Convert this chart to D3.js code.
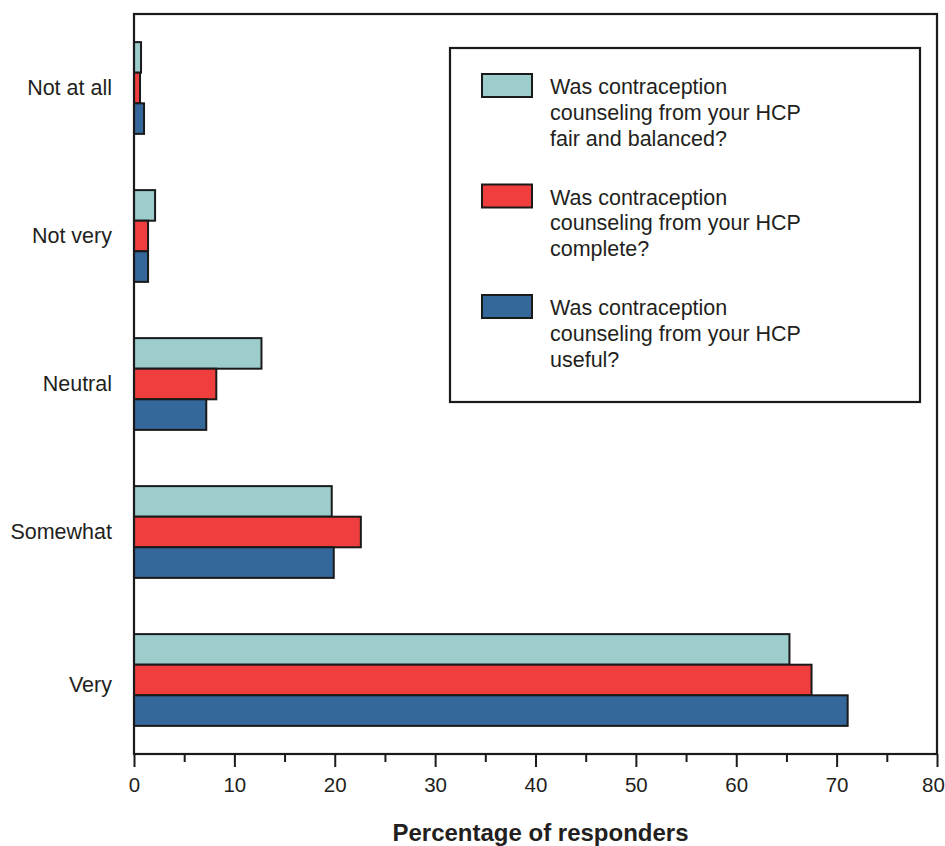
<!DOCTYPE html>
<html>
<head>
<meta charset="utf-8">
<script src="https://cdn.jsdelivr.net/npm/d3@7/dist/d3.min.js"></script>
<style>
  body { margin: 0; background: #fff; }
  svg { display: block; }
  text { font-family: "Liberation Sans", Arial, Helvetica, sans-serif; fill: #231f20; }
</style>
</head>
<body>
<svg id="chart" width="945" height="846"></svg>
<script>
const categories = ["Not at all", "Not very", "Neutral", "Somewhat", "Very"];
const seriesNames = [
  ["Was contraception", "counseling from your HCP", "fair and balanced?"],
  ["Was contraception", "counseling from your HCP", "complete?"],
  ["Was contraception", "counseling from your HCP", "useful?"]
];
const fairBalanced = [0.7, 2.1, 12.7, 19.7, 65.3];
const complete = [0.6, 1.4, 8.2, 22.6, 67.5];
const useful = [1.0, 1.4, 7.2, 19.9, 71.1];
const seriesValues = [fairBalanced, complete, useful];
const seriesColors = ["#9ccdcc", "#ef3e3d", "#34679a"];
const xTicks = [0, 10, 20, 30, 40, 50, 60, 70, 80];
const xMinorTicks = [5, 15, 25, 35, 45, 55, 65, 75];

(function () {
const svg = d3.select("#chart");
const pLeft = 134, pRight = 937, pTop = 14, pBottom = 754;
const ink = "#1a1a1a";

const x = d3.scaleLinear().domain([0, 80]).range([pLeft, pRight]);
const y = d3.scaleBand().domain(categories).range([pTop, pBottom]).paddingInner(0.38).paddingOuter(0.19);
const ySub = d3.scaleBand().domain(d3.range(seriesValues.length)).range([0, y.bandwidth()]);

// bars
const groups = svg.append("g").selectAll("g")
  .data(categories)
  .join("g")
  .attr("transform", d => `translate(0,${y(d)})`);

groups.selectAll("rect")
  .data((c, ci) => seriesValues.map((vals, si) => ({ si, v: vals[ci] })))
  .join("rect")
  .attr("x", x(0))
  .attr("y", d => ySub(d.si))
  .attr("width", d => x(d.v) - x(0))
  .attr("height", ySub.bandwidth())
  .attr("fill", d => seriesColors[d.si])
  .attr("stroke", ink)
  .attr("stroke-width", 2);

// frame
svg.append("rect")
  .attr("x", pLeft).attr("y", pTop)
  .attr("width", pRight - pLeft).attr("height", pBottom - pTop)
  .attr("fill", "none").attr("stroke", ink).attr("stroke-width", 2.2);

// x axis
const xAxis = d3.axisBottom(x).tickValues(xTicks).tickSize(13).tickPadding(10).tickFormat(d3.format("d"));
const gx = svg.append("g").attr("transform", `translate(0,${pBottom})`).call(xAxis);
gx.select(".domain").remove();
gx.selectAll(".tick line").attr("stroke", ink).attr("stroke-width", 2);
gx.selectAll(".tick text").attr("font-size", 20.5).attr("fill", "#231f20")
  .style("font-family", '"Liberation Sans", Arial, sans-serif')
  .attr("dx", d => d === 80 ? -4 : 0);

const gxm = svg.append("g").attr("transform", `translate(0,${pBottom})`)
  .call(d3.axisBottom(x).tickValues(xMinorTicks).tickSize(8).tickFormat(""));
gxm.select(".domain").remove();
gxm.selectAll(".tick line").attr("stroke", ink).attr("stroke-width", 2);

// y axis labels
const gy = svg.append("g").attr("transform", `translate(${pLeft},0)`)
  .call(d3.axisLeft(y).tickSize(0).tickPadding(22));
gy.select(".domain").remove();
gy.selectAll(".tick text").attr("font-size", 21.5).attr("fill", "#231f20")
  .style("font-family", '"Liberation Sans", Arial, sans-serif')
  .attr("y", d => d === "Very" ? 5 : 0);

// x axis title
svg.append("text")
  .attr("x", (pLeft + pRight) / 2 + 5)
  .attr("y", 841)
  .attr("text-anchor", "middle")
  .attr("font-size", 24)
  .attr("font-weight", "bold")
  .text("Percentage of responders");

// legend
const legend = svg.append("g");
legend.append("rect")
  .attr("x", 450).attr("y", 48).attr("width", 470).attr("height", 354)
  .attr("fill", "#fff").attr("stroke", ink).attr("stroke-width", 2.2);

const items = legend.selectAll("g.item")
  .data(seriesNames)
  .join("g").attr("class", "item")
  .attr("transform", (d, i) => `translate(482,${74 + i * 110.5})`);

items.append("rect")
  .attr("width", 50).attr("height", 23)
  .attr("fill", (d, i) => seriesColors[i])
  .attr("stroke", ink).attr("stroke-width", 2);

items.each(function(lines) {
  const t = d3.select(this).append("text")
    .attr("x", 68).attr("y", 20)
    .attr("font-size", 21.5);
  lines.forEach((ln, k) => {
    t.append("tspan").attr("x", 68).attr("dy", k === 0 ? 0 : 25.8).text(ln);
  });
});
})();
</script>
</body>
</html>
